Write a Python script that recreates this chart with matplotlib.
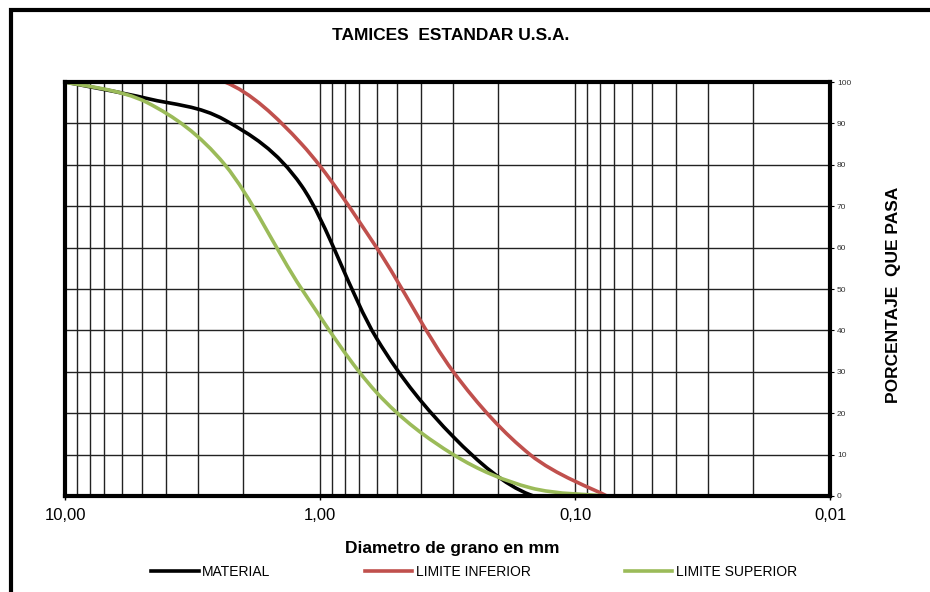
import numpy as np
import matplotlib
matplotlib.use("Agg")
from matplotlib import pyplot as plt
from matplotlib.ticker import FixedLocator, FixedFormatter, LogLocator, NullFormatter
from matplotlib.lines import Line2D
from matplotlib.patches import Rectangle, PathPatch
from matplotlib.path import Path

plt.rcParams['font.family'] = ['Liberation Sans', 'DejaVu Sans']

# abertura de tamices (mm) y % que pasa
tamiz = [10, 4.75, 2.36, 1.18, 0.6, 0.3, 0.15, 0.075]
material = [100, 96.0, 90.8, 74.9, 38.1, 14.3, 0.3, 0]
lim_inferior = [100, 100, 100, 85, 60, 30, 10, 0]
lim_superior = [100, 95, 80, 50, 25, 10, 2, 0]

x_ticks = [10, 1, 0.1, 0.01]
x_labels = ['10,00', '1,00', '0,10', '0,01']
y_ticks = list(range(0, 101, 10))


def smooth_path(d, p):
    # linea suavizada tipo Excel: bezier que pasa por cada punto
    x = np.log10(d)
    y = np.asarray(p, dtype=float)
    n = len(x)
    verts = [(d[0], y[0])]
    codes = [Path.MOVETO]
    for i in range(n - 1):
        i0 = max(i - 1, 0)
        i3 = min(i + 2, n - 1)
        c1x = x[i] + (x[i + 1] - x[i0]) / 6
        c1y = y[i] + (y[i + 1] - y[i0]) / 6
        c2x = x[i + 1] - (x[i3] - x[i]) / 6
        c2y = y[i + 1] - (y[i3] - y[i]) / 6
        verts += [(10 ** c1x, c1y), (10 ** c2x, c2y), (d[i + 1], y[i + 1])]
        codes += [Path.CURVE4] * 3
    return Path(verts, codes)


fig = plt.figure(figsize=(9.3, 5.92), dpi=100)
ax = fig.add_axes([65/930, 96/592, 765/930, 414/592])

ax.set_xscale('log')
ax.set_xlim(10, 0.01)
ax.set_ylim(0, 100)

for p, c, z in [(material, 'black', 3),
                (lim_inferior, '#C0504D', 3),
                (lim_superior, '#9BBB59', 4)]:
    ax.add_patch(PathPatch(smooth_path(tamiz, p), fill=False, ec=c, lw=2.6,
                           capstyle='round', zorder=z))

ax.xaxis.set_major_locator(FixedLocator(x_ticks))
ax.xaxis.set_major_formatter(FixedFormatter(x_labels))
ax.xaxis.set_minor_locator(LogLocator(base=10, subs=np.arange(2, 10)))
ax.xaxis.set_minor_formatter(NullFormatter())
ax.set_yticks(y_ticks)
ax.yaxis.tick_right()

ax.grid(which='both', axis='x', color='#222222', lw=1.0)
ax.grid(which='major', axis='y', color='#222222', lw=1.0)
ax.set_axisbelow(True)

ax.tick_params(axis='x', which='major', length=3, width=1, pad=6, labelsize=12)
ax.tick_params(axis='x', which='minor', length=0)
ax.tick_params(axis='y', which='major', length=3, width=0.8, pad=2,
               labelsize=6, labelcolor='#333333')
for s in ax.spines.values():
    s.set_linewidth(3)
    s.set_color('black')
    s.set_zorder(5)

fig.text(451/930, 1 - 35/592, 'TAMICES  ESTANDAR U.S.A.', ha='center', va='center',
         fontsize=12.5, fontweight='bold')
fig.text(452/930, 1 - 548/592, 'Diametro de grano en mm', ha='center', va='center',
         fontsize=12.5, fontweight='bold')
fig.text(893/930, 1 - 295/592, 'PORCENTAJE  QUE PASA', ha='center', va='center',
         rotation=90, fontsize=12.5, fontweight='bold')

handles = [Line2D([], [], color='black', lw=2.6),
           Line2D([], [], color='#C0504D', lw=2.6),
           Line2D([], [], color='#9BBB59', lw=2.6)]
fig.legend(handles, ['MATERIAL', 'LIMITE INFERIOR', 'LIMITE SUPERIOR'],
           loc='center', bbox_to_anchor=(474/930, 1 - 572/592), ncol=3, frameon=False,
           fontsize=10, handlelength=3.4, handletextpad=0.25, columnspacing=6.8)

# marco exterior
fig.add_artist(Rectangle((11/930, -0.2), 1.2, 1.2 - 10/592, transform=fig.transFigure,
                         fill=False, lw=3, ec='black', clip_on=False))

fig.savefig('out.png', dpi=100)
